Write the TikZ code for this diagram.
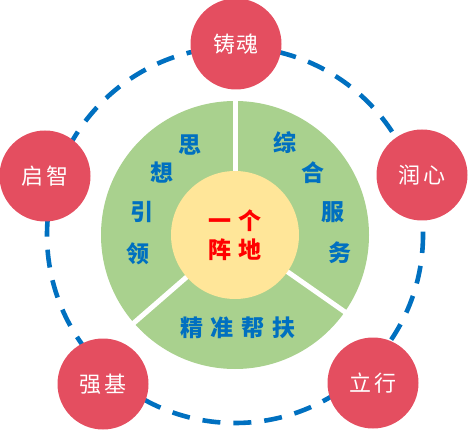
\documentclass[tikz,border=0pt]{standalone}
\usepackage{fontspec}
\newfontfamily\cjk{Noto Sans CJK SC}
\definecolor{ringblue}{HTML}{0070C0}
\definecolor{diskgreen}{HTML}{A9D18E}
\definecolor{coreyellow}{HTML}{FFE699}
\definecolor{roundred}{HTML}{E44E60}
\definecolor{textred}{HTML}{FF0000}
\tikzset{
  ring/.style={draw=ringblue, line width=4.6pt, dash pattern=on 18pt off 13pt},
  greendisk/.style={circle, fill=diskgreen, minimum size=268pt, inner sep=0pt},
  sepline/.style={draw=white, line width=5pt},
  coredisk/.style={circle, fill=coreyellow, minimum size=128pt, inner sep=0pt, align=center,
    font=\cjk\bfseries\fontsize{23}{30}\selectfont, text=textred},
  redround/.style={circle, fill=roundred, minimum size=91pt, inner sep=0pt,
    font=\cjk\fontsize{22}{24}\selectfont, text=white},
  bluechar/.style={font=\cjk\bfseries\fontsize{23}{24}\selectfont, text=ringblue, inner sep=0pt}
}
\begin{document}
\begin{tikzpicture}[x=1pt,y=-1pt]
\useasboundingbox (0,0) rectangle (468,430);
\coordinate (C) at (235,235);
\draw[ring] (C) circle[radius=188];
\node[greendisk] (G) at (C) {};
\draw[sepline] (C) -- ++(-90:136);
\draw[sepline] (C) -- ++(-221:136);
\draw[sepline] (C) -- ++(-325:136);
\node[coredisk] (core) at (C) {一\hspace{8pt}个\\[-1pt]阵\hspace{8pt}地};
\node[bluechar] (si) at (190,145) {思};
\node[bluechar] (xiang) at (162,173) {想};
\node[bluechar] (yin) at (142,212) {引};
\node[bluechar] (ling) at (138,254) {领};
\node[bluechar] (zong) at (285,143) {综};
\node[bluechar] (he) at (313,173) {合};
\node[bluechar] (fu) at (333,212) {服};
\node[bluechar] (wu) at (340,253) {务};
\node[bluechar] (jzbf) at (238,328) {精\hspace{8pt}准\hspace{8pt}帮\hspace{8pt}扶};
\node[redround] (zhuhun) at (236,44) {铸\hspace{2pt}魂};
\node[redround] (qizhi) at (45,176) {启\hspace{4pt}智};
\node[redround] (runxin) at (422,175) {润\hspace{4pt}心};
\node[redround] (qiangji) at (103,384) {强\hspace{4pt}基};
\node[redround] (lixing) at (373,383) {立\hspace{4pt}行};
\end{tikzpicture}
\end{document}
